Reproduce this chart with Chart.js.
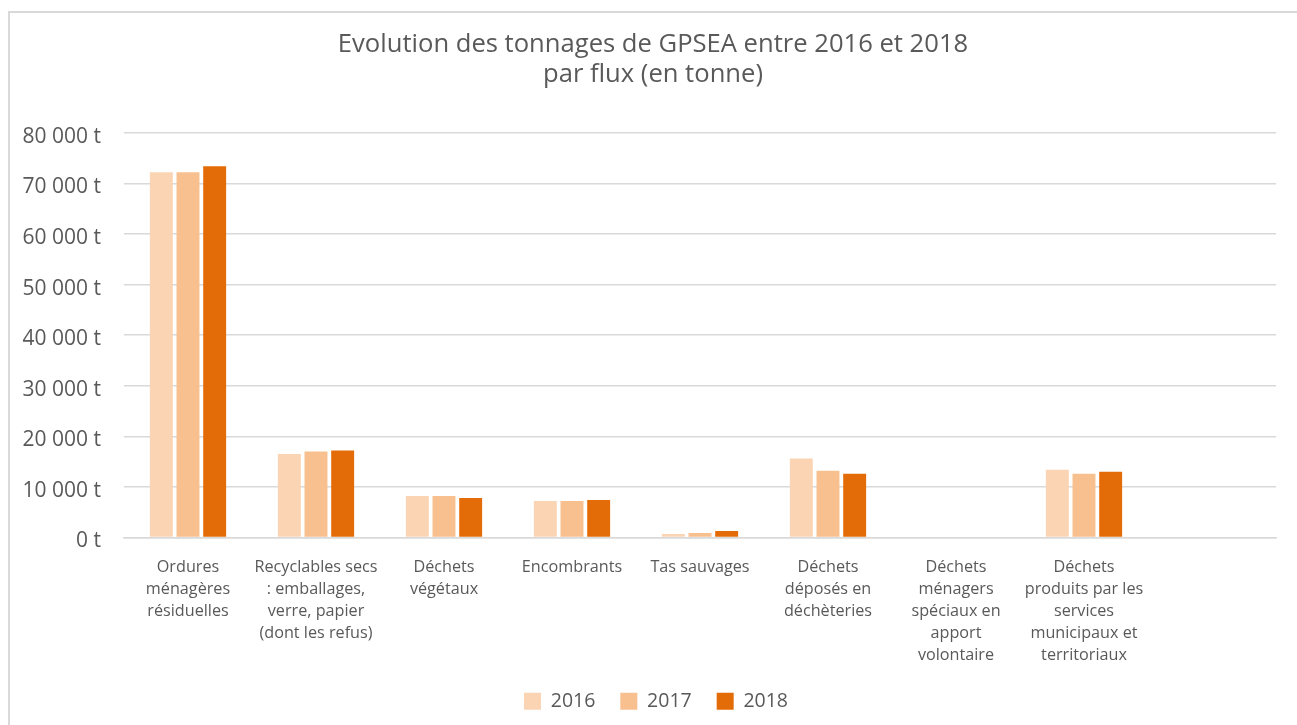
<!DOCTYPE html>
<html lang="fr">
<head>
<meta charset="utf-8">
<title>Evolution des tonnages de GPSEA</title>
<script src="https://cdn.jsdelivr.net/npm/chart.js@4.4.1/dist/chart.umd.min.js"></script>
<style>
    html, body { margin: 0; padding: 0; background: #fff; }
    #wrap { position: relative; width: 1297px; height: 725px; overflow: hidden; }
    #frame {
        position: absolute; left: 8px; top: 11px; width: 1400px; height: 800px;
        border-left: 2px solid #d9d9d9; border-top: 2px solid #d9d9d9;
    }
    canvas { position: absolute; left: 0; top: 0; }
</style>
</head>
<body>
<div id="wrap">
    <div id="frame"></div>
    <canvas id="chart" width="1297" height="725"></canvas>
</div>
<script>
// Data (tonnes)
const categories = [
    ['Ordures', 'ménagères', 'résiduelles'],
    ['Recyclables secs', ': emballages,', 'verre, papier', '(dont les refus)'],
    ['Déchets', 'végétaux'],
    'Encombrants',
    'Tas sauvages',
    ['Déchets', 'déposés en', 'déchèteries'],
    ['Déchets', 'ménagers', 'spéciaux en', 'apport', 'volontaire'],
    ['Déchets', 'produits par les', 'services', 'municipaux et', 'territoriaux'],
    ''
];
const years = ['2016', '2017', '2018'];
const values2016 = [72200, 16500, 8200, 7200, 700, 15600, 0, 13400, null];
const values2017 = [72200, 17000, 8200, 7200, 900, 13200, 0, 12600, null];
const values2018 = [73400, 17200, 7800, 7400, 1300, 12600, 0, 13000, null];
const yTicks = [0, 10000, 20000, 30000, 40000, 50000, 60000, 70000, 80000];

const colors = {
    c2016: '#fbd4b4',
    c2017: '#f8bf8f',
    c2018: '#e36c09',
    text: '#595959',
    grid: '#d9d9d9'
};
const fontFamily = '"Open Sans", "Noto Sans", sans-serif';

function fmt(v) {
    return String(v).replace(/\B(?=(\d{3})+(?!\d))/g, ' ') + ' t';
}

const series = [values2016, values2017, values2018];
const seriesColors = [colors.c2016, colors.c2017, colors.c2018];

// title and legend sit a bit right of the plot centre in the original
const shiftBoxes = {
    id: 'shiftBoxes',
    afterLayout(chart) {
        if (chart.legend) {
            chart.legend.left += 18;
            chart.legend.right += 18;
        }
        if (chart.titleBlock) {
            chart.titleBlock.left += 15;
            chart.titleBlock.right += 15;
        }
    }
};

new Chart(document.getElementById('chart'), {
    type: 'bar',
    data: {
        labels: categories,
        datasets: years.map((y, i) => ({
            label: y,
            data: series[i],
            backgroundColor: seriesColors[i],
            borderWidth: 0,
            categoryPercentage: 0.625,
            barPercentage: 0.86
        }))
    },
    options: {
        responsive: false,
        animation: false,
        layout: { padding: { left: 0, right: 21, top: 0, bottom: 4 } },
        plugins: {
            title: {
                display: true,
                text: ['Evolution des tonnages de GPSEA entre 2016 et 2018', 'par flux (en tonne)'],
                color: colors.text,
                font: { family: fontFamily, size: 25.6, weight: 'normal', lineHeight: 1.17 },
                padding: { top: 30, bottom: 43 }
            },
            legend: {
                position: 'bottom',
                labels: {
                    color: colors.text,
                    font: { family: fontFamily, size: 19.5 },
                    boxWidth: 17,
                    boxHeight: 17,
                    padding: 25
                }
            },
            tooltip: { enabled: false }
        },
        scales: {
            x: {
                grid: { display: false },
                border: { color: colors.grid, width: 1.5 },
                ticks: {
                    color: colors.text,
                    font: { family: fontFamily, size: 16.2, lineHeight: 1.36 },
                    padding: 11,
                    maxRotation: 0,
                    autoSkip: false
                },
                afterFit: scale => { scale.height = 129; }
            },
            y: {
                min: 0,
                max: 80000,
                afterBuildTicks: scale => { scale.ticks = yTicks.map(v => ({ value: v })); },
                grid: { color: colors.grid, lineWidth: 1.5, drawTicks: false },
                border: { display: false },
                ticks: {
                    color: colors.text,
                    font: { family: fontFamily, size: 21 },
                    padding: 23,
                    labelOffset: 4,
                    callback: v => fmt(v)
                },
                afterFit: scale => { scale.width = 124; }
            }
        }
    },
    plugins: [shiftBoxes]
});
</script>
</body>
</html>
